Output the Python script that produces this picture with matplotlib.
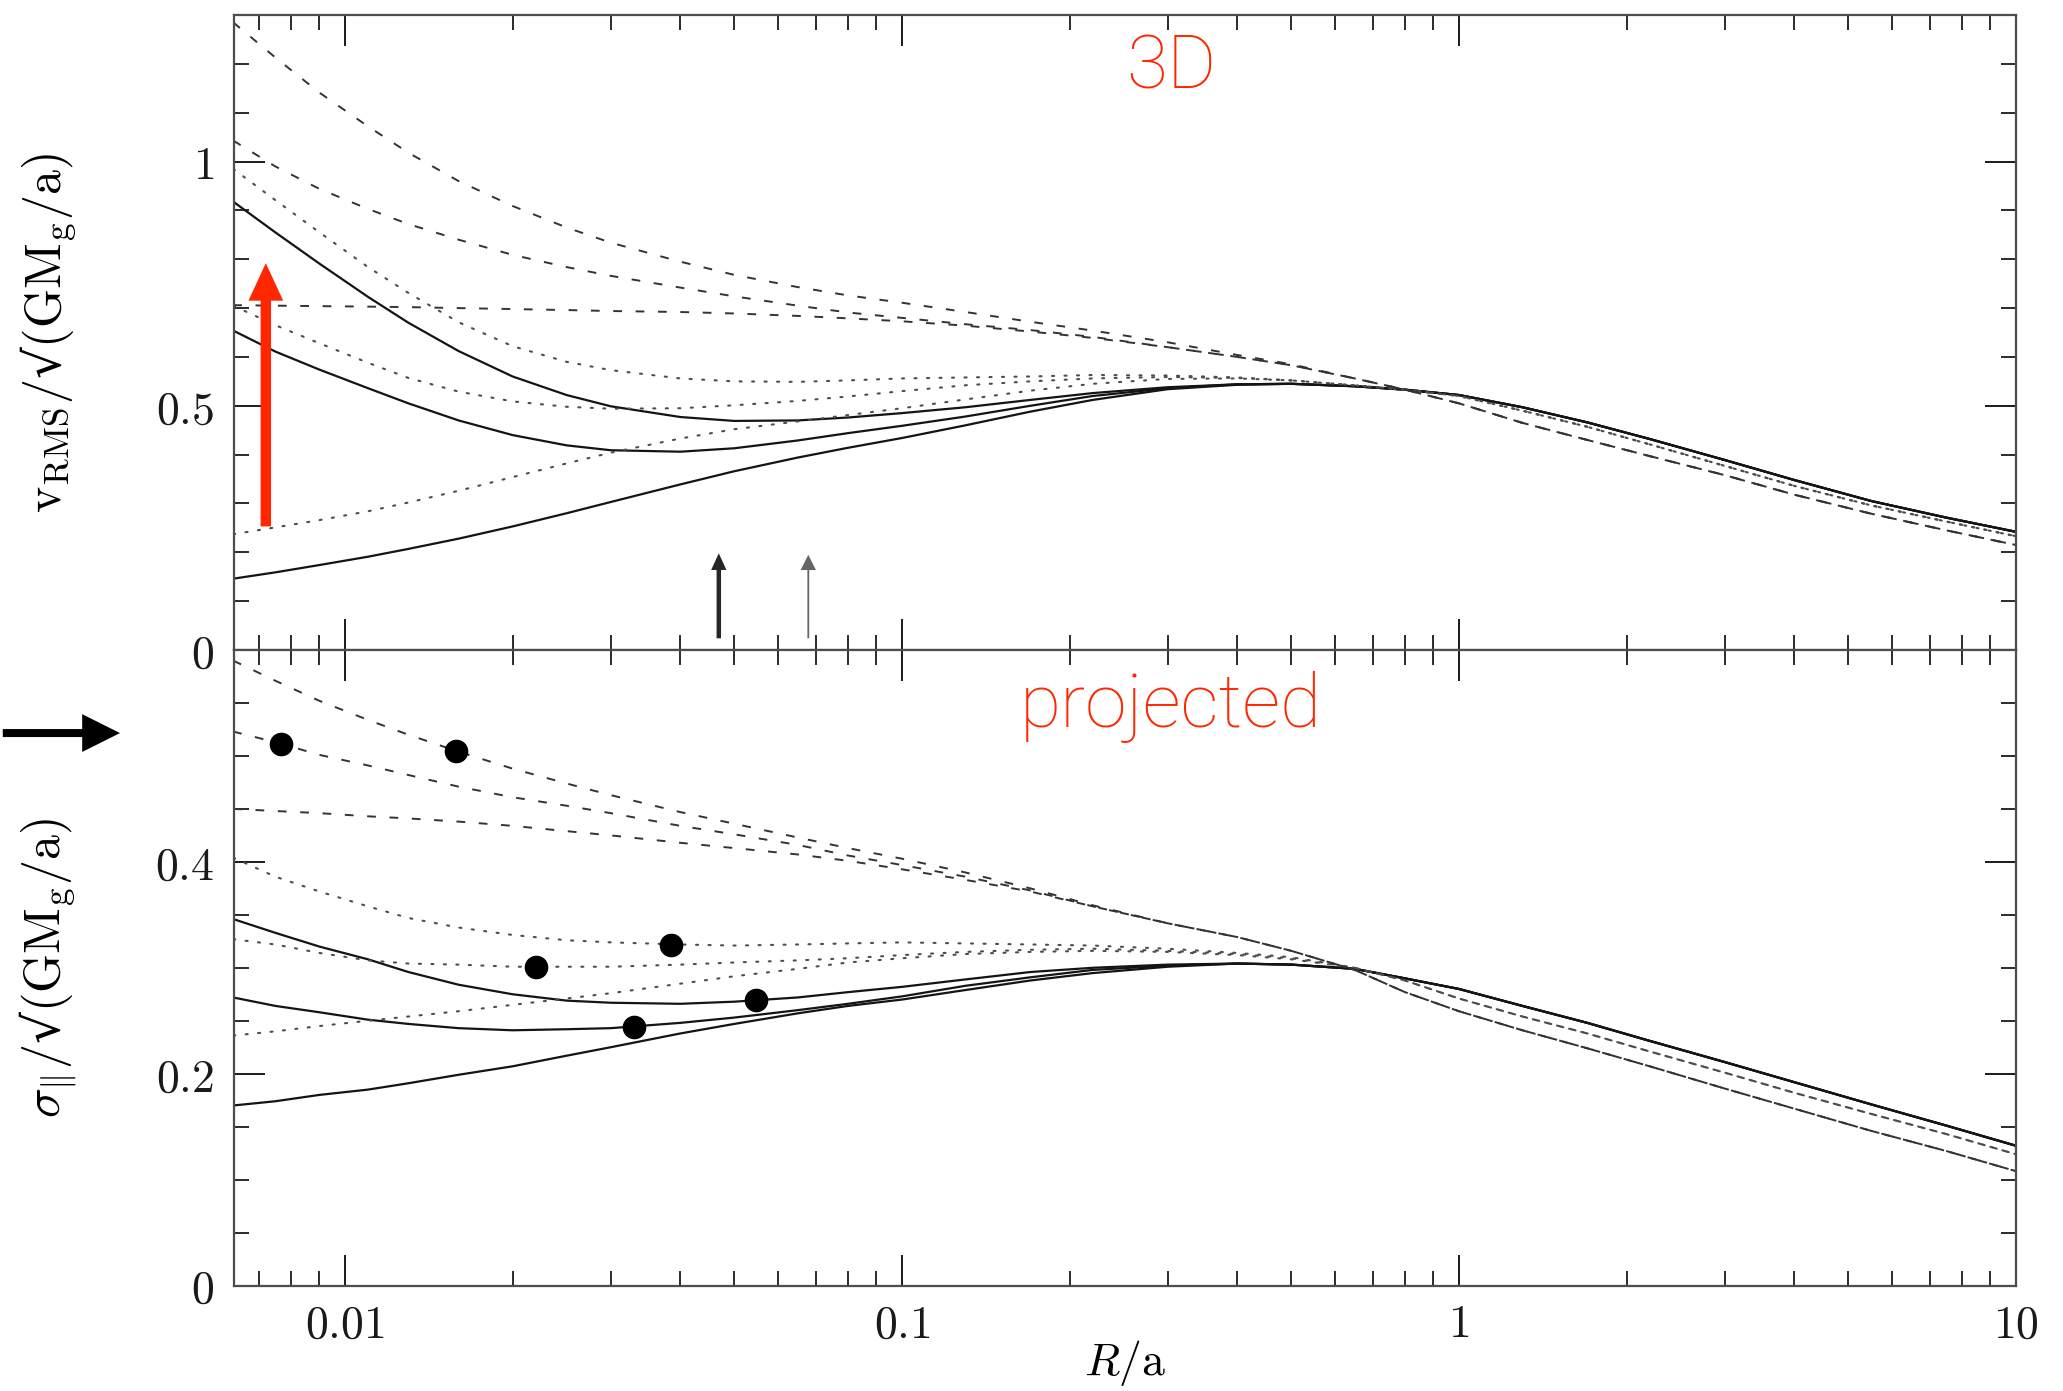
import matplotlib
matplotlib.use('Agg')
import matplotlib.pyplot as plt
from matplotlib.ticker import LogLocator, MultipleLocator, FixedLocator, FixedFormatter, NullFormatter

plt.rcParams['mathtext.fontset'] = 'cm'
plt.rcParams['font.family'] = ['DejaVu Serif']

# ---------------- data ----------------
r_grid = [0.0063, 0.0075, 0.009, 0.011, 0.013, 0.016, 0.02, 0.025, 0.03, 0.04, 0.05,
          0.065, 0.08, 0.1, 0.13, 0.17, 0.22, 0.3, 0.4, 0.5, 0.65, 0.8, 1.0, 1.3, 1.7,
          2.2, 3.0, 4.0, 5.5, 7.5, 10.0]

# top panel (3D v_RMS)
top_solid_1 = [0.918, 0.855, 0.791, 0.723, 0.670, 0.612, 0.560, 0.522, 0.499, 0.477, 0.469,
               0.470, 0.476, 0.485, 0.497, 0.512, 0.526, 0.538, 0.544, 0.545, 0.540, 0.533,
               0.522, 0.497, 0.466, 0.432, 0.389, 0.348, 0.305, 0.271, 0.242]
top_solid_2 = [0.654, 0.611, 0.574, 0.536, 0.505, 0.470, 0.440, 0.419, 0.409, 0.406, 0.413,
               0.429, 0.444, 0.459, 0.478, 0.500, 0.520, 0.536, 0.544, 0.545, 0.540, 0.533,
               0.522, 0.497, 0.466, 0.432, 0.389, 0.348, 0.305, 0.271, 0.242]
top_solid_3 = [0.146, 0.159, 0.174, 0.191, 0.207, 0.228, 0.253, 0.280, 0.303, 0.339, 0.366,
               0.394, 0.414, 0.434, 0.460, 0.488, 0.512, 0.534, 0.543, 0.545, 0.540, 0.533,
               0.522, 0.497, 0.466, 0.432, 0.389, 0.348, 0.305, 0.271, 0.242]
top_dotted_1 = [0.985, 0.921, 0.855, 0.784, 0.731, 0.671, 0.622, 0.590, 0.573, 0.556, 0.550,
                0.549, 0.552, 0.556, 0.558, 0.560, 0.563, 0.562, 0.558, 0.552, 0.542, 0.533,
                0.520, 0.490, 0.457, 0.421, 0.377, 0.336, 0.296, 0.263, 0.233]
top_dotted_2 = [0.705, 0.665, 0.628, 0.588, 0.557, 0.529, 0.509, 0.498, 0.494, 0.495, 0.501,
                0.510, 0.519, 0.530, 0.542, 0.550, 0.556, 0.559, 0.557, 0.552, 0.542, 0.533,
                0.520, 0.490, 0.457, 0.421, 0.377, 0.336, 0.296, 0.263, 0.233]
top_dotted_3 = [0.237, 0.251, 0.266, 0.284, 0.302, 0.326, 0.354, 0.382, 0.404, 0.433, 0.452,
                0.468, 0.481, 0.495, 0.513, 0.531, 0.545, 0.555, 0.556, 0.552, 0.542, 0.533,
                0.520, 0.490, 0.457, 0.421, 0.377, 0.336, 0.296, 0.263, 0.233]
top_dashed_1 = [1.285, 1.213, 1.141, 1.072, 1.018, 0.960, 0.909, 0.865, 0.834, 0.795, 0.768,
                0.743, 0.726, 0.711, 0.692, 0.672, 0.654, 0.630, 0.604, 0.585, 0.556, 0.533,
                0.505, 0.465, 0.430, 0.397, 0.358, 0.318, 0.279, 0.245, 0.215]
top_dashed_2 = [1.043, 0.990, 0.944, 0.903, 0.872, 0.840, 0.809, 0.784, 0.766, 0.742, 0.724,
                0.705, 0.691, 0.680, 0.667, 0.655, 0.641, 0.620, 0.600, 0.583, 0.556, 0.533,
                0.505, 0.465, 0.430, 0.397, 0.358, 0.318, 0.279, 0.245, 0.215]
top_dashed_3 = [0.706, 0.705, 0.704, 0.703, 0.702, 0.700, 0.698, 0.696, 0.694, 0.692, 0.689,
                0.684, 0.679, 0.673, 0.664, 0.652, 0.639, 0.620, 0.600, 0.583, 0.556, 0.533,
                0.505, 0.465, 0.430, 0.397, 0.358, 0.318, 0.279, 0.245, 0.215]

# bottom panel (projected sigma)
bot_solid_1 = [0.346, 0.333, 0.320, 0.308, 0.296, 0.284, 0.275, 0.269, 0.267, 0.266, 0.268,
               0.272, 0.277, 0.282, 0.289, 0.296, 0.300, 0.303, 0.304, 0.303, 0.299, 0.290,
               0.280, 0.264, 0.248, 0.231, 0.211, 0.192, 0.171, 0.151, 0.132]
bot_solid_2 = [0.272, 0.264, 0.258, 0.251, 0.247, 0.243, 0.241, 0.242, 0.243, 0.248, 0.253,
               0.260, 0.266, 0.273, 0.283, 0.291, 0.298, 0.302, 0.304, 0.303, 0.299, 0.290,
               0.280, 0.264, 0.248, 0.231, 0.211, 0.192, 0.171, 0.151, 0.132]
bot_solid_3 = [0.170, 0.174, 0.180, 0.185, 0.191, 0.199, 0.207, 0.217, 0.225, 0.238, 0.247,
               0.257, 0.264, 0.270, 0.279, 0.288, 0.295, 0.301, 0.304, 0.303, 0.299, 0.290,
               0.280, 0.264, 0.248, 0.231, 0.211, 0.192, 0.171, 0.151, 0.132]
bot_dotted_1 = [0.404, 0.386, 0.372, 0.358, 0.347, 0.338, 0.331, 0.326, 0.324, 0.322, 0.321,
                0.322, 0.323, 0.324, 0.323, 0.322, 0.321, 0.318, 0.314, 0.310, 0.300, 0.288,
                0.271, 0.254, 0.238, 0.221, 0.201, 0.182, 0.162, 0.143, 0.124]
bot_dotted_2 = [0.327, 0.322, 0.314, 0.307, 0.304, 0.303, 0.301, 0.301, 0.301, 0.303, 0.305,
                0.307, 0.309, 0.312, 0.315, 0.317, 0.318, 0.316, 0.313, 0.309, 0.300, 0.288,
                0.271, 0.254, 0.238, 0.221, 0.201, 0.182, 0.162, 0.143, 0.124]
bot_dotted_3 = [0.236, 0.240, 0.245, 0.250, 0.254, 0.259, 0.265, 0.271, 0.276, 0.285, 0.292,
                0.299, 0.305, 0.309, 0.313, 0.315, 0.316, 0.315, 0.312, 0.308, 0.300, 0.288,
                0.271, 0.254, 0.238, 0.221, 0.201, 0.182, 0.162, 0.143, 0.124]
bot_dashed_1 = [0.590, 0.571, 0.552, 0.534, 0.520, 0.504, 0.488, 0.474, 0.463, 0.447, 0.436,
                0.423, 0.413, 0.403, 0.390, 0.375, 0.359, 0.342, 0.329, 0.316, 0.298, 0.277,
                0.259, 0.241, 0.224, 0.207, 0.186, 0.167, 0.146, 0.127, 0.108]
bot_dashed_2 = [0.523, 0.513, 0.501, 0.491, 0.482, 0.471, 0.461, 0.453, 0.446, 0.434, 0.426,
                0.416, 0.406, 0.397, 0.386, 0.373, 0.358, 0.342, 0.329, 0.316, 0.298, 0.277,
                0.259, 0.241, 0.224, 0.207, 0.186, 0.167, 0.146, 0.127, 0.108]
bot_dashed_3 = [0.450, 0.448, 0.446, 0.443, 0.441, 0.438, 0.434, 0.429, 0.425, 0.418, 0.413,
                0.407, 0.401, 0.393, 0.383, 0.372, 0.358, 0.342, 0.329, 0.316, 0.298, 0.277,
                0.259, 0.241, 0.224, 0.207, 0.186, 0.167, 0.146, 0.127, 0.108]

# observed points (bottom panel)
obs_r = [0.00769, 0.0158, 0.0220, 0.0385, 0.0547, 0.0331]
obs_sigma = [0.5116, 0.5046, 0.3004, 0.3218, 0.2692, 0.2443]

# small black arrows (top panel) positions
mark_r = [0.0469, 0.0679]
mark_y0 = [0.024, 0.024]
mark_y1 = [0.198, 0.195]

# red arrow
red_r = 0.00721
red_y0 = 0.253
red_y1 = 0.792

x_ticks = [0.01, 0.1, 1, 10]
x_ticklabels = ['0.01', '0.1', '1', '10']
top_yticks = [0, 0.5, 1]
top_yticklabels = ['0', '0.5', '1']
bot_yticks = [0, 0.2, 0.4]
bot_yticklabels = ['0', '0.2', '0.4']

# ---------------- figure ----------------
fig = plt.figure(figsize=(20.63, 13.91), dpi=100)
ax1 = fig.add_axes([0.1134, 0.5327, 0.8638, 0.4565])
ax2 = fig.add_axes([0.1134, 0.0758, 0.8638, 0.4569])

solid_kw = dict(color='0.08', lw=1.6, solid_capstyle='round', solid_joinstyle='round')
dot_kw = dict(color='0.3', lw=1.5, dashes=(1.0, 5.0), dash_capstyle='round')
dash_kw = dict(color='0.2', lw=1.4, dashes=(4.5, 7.0))

for ys in (top_solid_1, top_solid_2, top_solid_3):
    ax1.plot(r_grid, ys, **solid_kw)
for ys in (top_dotted_1, top_dotted_2, top_dotted_3):
    ax1.plot(r_grid, ys, **dot_kw)
for ys in (top_dashed_1, top_dashed_2, top_dashed_3):
    ax1.plot(r_grid, ys, **dash_kw)

for ys in (bot_solid_1, bot_solid_2, bot_solid_3):
    ax2.plot(r_grid, ys, **solid_kw)
for ys in (bot_dotted_1, bot_dotted_2, bot_dotted_3):
    ax2.plot(r_grid, ys, **dot_kw)
for ys in (bot_dashed_1, bot_dashed_2, bot_dashed_3):
    ax2.plot(r_grid, ys, **dash_kw)

ax2.plot(obs_r, obs_sigma, 'o', color='k', ms=16, zorder=5)

for ax, ylim in ((ax1, (0, 1.3)), (ax2, (0, 0.6))):
    ax.set_xscale('log')
    ax.set_xlim(0.00632, 10)
    ax.set_ylim(*ylim)
    ax.xaxis.set_major_locator(FixedLocator(x_ticks))
    ax.xaxis.set_minor_locator(LogLocator(base=10, subs=[2, 3, 4, 5, 6, 7, 8, 9]))
    ax.xaxis.set_minor_formatter(NullFormatter())
    ax.tick_params(which='both', direction='in', top=True, right=True, colors='0.1')
    ax.tick_params(which='major', length=22, width=1.4, labelsize=33)
    ax.tick_params(which='minor', length=11, width=1.3)
    ax.tick_params(axis='y', pad=14)
    ax.tick_params(axis='x', pad=12)
    for s in ax.spines.values():
        s.set_linewidth(1.6)
        s.set_color('0.3')

ax1.xaxis.set_major_formatter(NullFormatter())
ax1.yaxis.set_major_locator(FixedLocator(top_yticks))
ax1.yaxis.set_major_formatter(FixedFormatter([r'$\mathrm{%s}$' % t for t in top_yticklabels]))
ax1.yaxis.set_minor_locator(MultipleLocator(0.1))

ax2.xaxis.set_major_formatter(FixedFormatter([r'$\mathrm{%s}$' % t for t in x_ticklabels]))
ax2.yaxis.set_major_locator(FixedLocator(bot_yticks))
ax2.yaxis.set_major_formatter(FixedFormatter([r'$\mathrm{%s}$' % t for t in bot_yticklabels]))
ax2.yaxis.set_minor_locator(MultipleLocator(0.05))

ax1.set_ylabel(r'$\mathrm{v_{RMS}}/$' + '\u221a' + r'$(\mathrm{GM_{g}/a})$', fontsize=36)
ax2.set_ylabel(r'$\sigma_{\Vert}/$' + '\u221a' + r'$(\mathrm{GM_{g}/a})$', fontsize=36)
ax1.yaxis.set_label_coords(-0.087, 0.5)
ax2.yaxis.set_label_coords(-0.087, 0.5)
ax2.set_xlabel(r'$R/\mathrm{a}$', fontsize=33)
ax2.xaxis.set_label_coords(0.5, -0.082)

# arrows
red = '#ff2600'
ax1.annotate('', xy=(red_r, red_y1), xytext=(red_r, red_y0),
             arrowprops=dict(width=7.5, headwidth=25, headlength=27, shrink=0,
                             color=red, lw=0))
ax1.annotate('', xy=(mark_r[0], mark_y1[0]), xytext=(mark_r[0], mark_y0[0]),
             arrowprops=dict(width=3.2, headwidth=11, headlength=12, shrink=0,
                             color='0.15', lw=0))
ax1.annotate('', xy=(mark_r[1], mark_y1[1]), xytext=(mark_r[1], mark_y0[1]),
             arrowprops=dict(width=1.3, headwidth=11, headlength=11, shrink=0,
                             color='0.4', lw=0))
fig.patches.append(matplotlib.patches.FancyArrowPatch(
    (0.0, 0.473), (0.0595, 0.473), transform=fig.transFigure,
    arrowstyle='simple,head_width=1.7,head_length=1.7,tail_width=0.36',
    mutation_scale=16, color='k', lw=0))

fig.text(0.5676, 0.951, '3D', color=red, fontsize=54, ha='center', va='center',
         family=['Roboto', 'DejaVu Sans'], fontweight='light')
fig.text(0.5676, 0.4917, 'projected', color=red, fontsize=54, ha='center', va='center',
         family=['Roboto', 'DejaVu Sans'], fontweight='light')

fig.savefig('out.png', dpi=100)
